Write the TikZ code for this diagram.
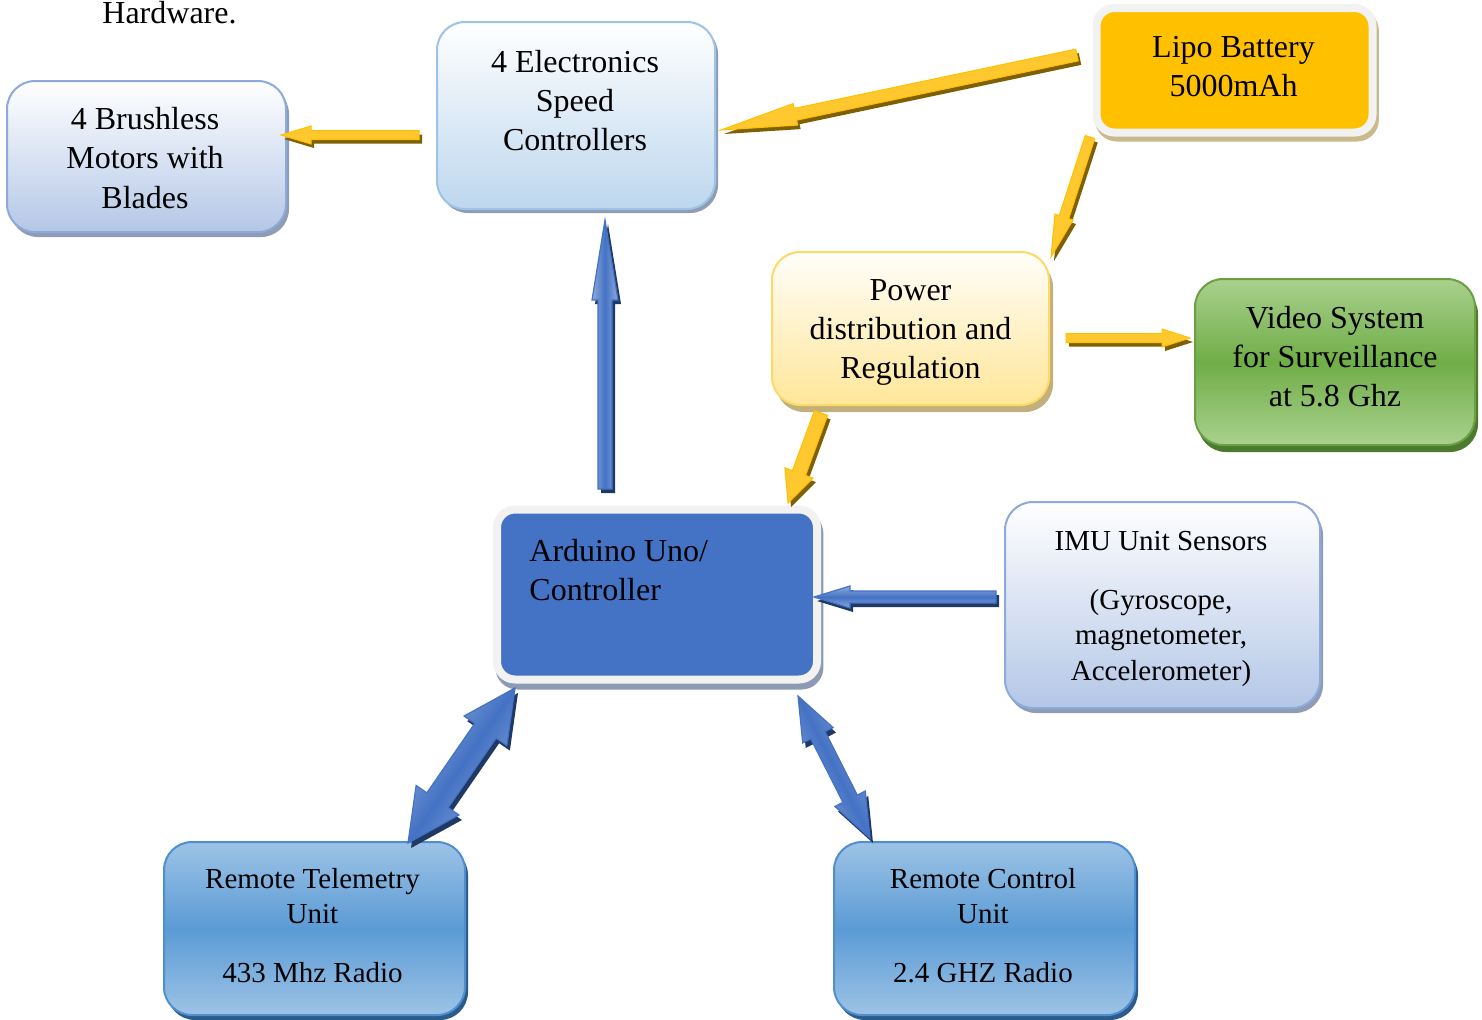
\documentclass[tikz,border=0pt]{standalone}
\usepackage{fontspec}
\setmainfont{Liberation Serif}
\usetikzlibrary{calc,shadows}
\definecolor{shgray}{HTML}{8F9CB3}
\definecolor{brushbd}{HTML}{8EAADB}
\definecolor{brushbot}{HTML}{B4C7E7}
\definecolor{escbd}{HTML}{9DC3E6}
\definecolor{escbot}{HTML}{BDD7EE}
\definecolor{lipofill}{HTML}{FFC000}
\definecolor{whitebd}{HTML}{F2F2F2}
\definecolor{liposh}{HTML}{C9B98B}
\definecolor{powertop}{HTML}{FFFEF9}
\definecolor{powerbot}{HTML}{FFE699}
\definecolor{powerbd}{HTML}{FFD966}
\definecolor{powersh}{HTML}{C1B07C}
\definecolor{videotop}{HTML}{A9D18E}
\definecolor{videomid}{HTML}{70AD47}
\definecolor{videobd}{HTML}{6A9F44}
\definecolor{videosh}{HTML}{4C7A2E}
\definecolor{ardfill}{HTML}{4472C4}
\definecolor{ardsh}{HTML}{8C9BB3}
\definecolor{teletop}{HTML}{9DC3E6}
\definecolor{telemid}{HTML}{5B9BD5}
\definecolor{telebd}{HTML}{4F8FCF}
\definecolor{telesh}{HTML}{2E5C8A}
\definecolor{yel}{HTML}{FFC000}
\definecolor{yelfill}{HTML}{FFC82E}
\definecolor{yelsh}{HTML}{7F6000}
\definecolor{blu}{HTML}{4472C4}
\definecolor{bluhi}{HTML}{8EAADB}
\definecolor{blush}{HTML}{203864}

\newcommand\blkpath[6]{%
  \path[#1] ($(#2)!#5!90:(#3)$) -- ($(#4)!#5!90:(#3)$) -- ($(#4)!#6!90:(#3)$) -- (#3)
    -- ($(#4)!#6!-90:(#3)$) -- ($(#4)!#5!-90:(#3)$) -- ($(#2)!#5!-90:(#3)$) -- cycle;}
\newcommand\blkarrow[8]{%
  \coordinate (#1-n) at ($(#5)!#8!(#4)$);
  \blkpath{#3,transform canvas={shift={(1.5pt,-2pt)}}}{#4}{#5}{#1-n}{#6}{#7}
  \blkpath{#2}{#4}{#5}{#1-n}{#6}{#7}}
\newcommand\blkdpath[7]{%
  \path[#1] (#2) -- ($(#4)!#7!90:(#3)$) -- ($(#4)!#6!90:(#3)$) -- ($(#5)!#6!90:(#3)$)
    -- ($(#5)!#7!90:(#3)$) -- (#3) -- ($(#5)!#7!-90:(#3)$) -- ($(#5)!#6!-90:(#3)$)
    -- ($(#4)!#6!-90:(#3)$) -- ($(#4)!#7!-90:(#3)$) -- cycle;}
\newcommand\blkdarrow[8]{%
  \coordinate (#1-m) at ($(#4)!#8!(#5)$);
  \coordinate (#1-n) at ($(#5)!#8!(#4)$);
  \blkdpath{#3,transform canvas={shift={(1.5pt,-2.5pt)}}}{#4}{#5}{#1-m}{#1-n}{#6}{#7}
  \blkdpath{#2}{#4}{#5}{#1-m}{#1-n}{#6}{#7}}

\tikzset{
  box/.style={rounded corners=14pt, inner sep=0pt, line width=1pt},
  bigtxt/.style={font={\fontsize{16pt}{19.65pt}\selectfont}, align=center, inner sep=0pt},
  smalltxt/.style={font={\fontsize{14.5pt}{17.75pt}\selectfont}, align=center, inner sep=0pt},
  paleblue/.style={box, draw=brushbd, top color=white, bottom color=brushbot,
    general shadow={fill=shgray, shadow xshift=1.5pt, shadow yshift=-2.5pt}},
  escbox/.style={box, draw=escbd, top color=white, bottom color=escbot,
    general shadow={fill=shgray, shadow xshift=1.5pt, shadow yshift=-2pt}},
  lipobox/.style={rounded corners=9pt, inner sep=0pt, line width=4pt, draw=whitebd, fill=lipofill,
    general shadow={fill=liposh, draw=liposh, line width=4pt, shadow xshift=1.2pt, shadow yshift=-2.5pt}},
  powerbox/.style={box, draw=powerbd, top color=powertop, bottom color=powerbot,
    general shadow={fill=powersh, shadow xshift=2pt, shadow yshift=-3.5pt}},
  videobox/.style={box, draw=videobd, top color=videotop, bottom color=videotop, middle color=videomid,
    general shadow={fill=videosh, shadow xshift=1.5pt, shadow yshift=-3.5pt}},
  ardbox/.style={rounded corners=9pt, inner sep=0pt, line width=4pt, draw=whitebd, fill=ardfill,
    general shadow={fill=ardsh, draw=ardsh, line width=4pt, shadow xshift=1.2pt, shadow yshift=-3pt}},
  telebox/.style={box, draw=telebd, top color=teletop, bottom color=teletop, middle color=telemid,
    general shadow={fill=telesh, shadow xshift=1.5pt, shadow yshift=-2.5pt}},
  yarrow/.style={fill=yelfill, draw=yel, line width=0.5pt},
  yshadow/.style={fill=yelsh},
  barrow/.style={draw=blu, line width=0.6pt, top color=bluhi, bottom color=bluhi, middle color=blu, shading angle=#1},
  bshadow/.style={fill=blush}
}

\begin{document}
\begin{tikzpicture}[x=0.5pt,y=-0.5pt]
\useasboundingbox (0,0) rectangle (1482,1019);
\fill[white] (0,0) rectangle (1482,1019);

% boxes
\node[paleblue, minimum width=139.5pt, minimum height=75.5pt] (brush) at (146.5,156.5) {};
\node[escbox, minimum width=139pt, minimum height=93.5pt] (esc) at (576,115.5) {};
\node[lipobox, minimum width=138pt, minimum height=62.25pt] (lipo) at (1234.5,70.25) {};
\node[powerbox, minimum width=138.5pt, minimum height=76.5pt] (power) at (910.5,328.5) {};
\node[videobox, minimum width=140pt, minimum height=83pt] (video) at (1335,362) {};
\node[ardbox, minimum width=160pt, minimum height=85pt] (ard) at (657,594.5) {};
\node[paleblue, minimum width=157.5pt, minimum height=103pt] (imu) at (1162.5,605) {};
\node[telebox, minimum width=150.5pt, minimum height=86.5pt] (tele) at (314.5,928.5) {};
\node[telebox, minimum width=150.5pt, minimum height=86.5pt] (rc) at (984.5,928.5) {};

% texts
\node[bigtxt, anchor=base] (hw) at (169.5,23) {Hardware.};
\node[bigtxt] (brush-t) at (145,158) {4 Brushless\\Motors with\\Blades};
\node[bigtxt] (esc-t) at (575,100.5) {4 Electronics\\Speed\\Controllers};
\node[bigtxt] (lipo-t) at (1233.5,66.6) {Lipo Battery\\5000mAh};
\node[bigtxt] (power-t) at (910.5,332.5) {Power\\distribution and\\Regulation};
\node[bigtxt] (video-t) at (1335,356.5) {Video System\\for Surveillance\\at 5.8 Ghz};
\node[bigtxt, align=left, anchor=west] (ard-t) at (529,570) {Arduino Uno/\\Controller};
\node[smalltxt] (imu-t) at (1161,608.5) {IMU Unit Sensors\\[11.75pt](Gyroscope,\\magnetometer,\\Accelerometer)};
\node[smalltxt] (tele-t) at (312.5,925.8) {Remote Telemetry\\Unit\\[11.75pt]433 Mhz Radio};
\node[smalltxt] (rc-t) at (983,925.8) {Remote Control\\Unit\\[11.75pt]2.4 GHZ Radio};

% connector end points
\coordinate (a1s) at (419,135);  \coordinate (a1e) at (281,135);
\coordinate (a2s) at (1077,55);  \coordinate (a2e) at (721,130);
\coordinate (a3s) at (1090,137); \coordinate (a3e) at (1051,257);
\coordinate (a4s) at (1066,338); \coordinate (a4e) at (1190,338);
\coordinate (a5s) at (821,413);  \coordinate (a5e) at (788,503);
\coordinate (a6s) at (605,489);  \coordinate (a6e) at (605,220);
\coordinate (a7s) at (996,597);  \coordinate (a7e) at (814,597);
\coordinate (d1s) at (408,843);  \coordinate (d1e) at (515,688);
\coordinate (d2s) at (798,696);  \coordinate (d2e) at (870,838);

% arrows
\blkarrow{a1}{yarrow}{yshadow}{a1s}{a1e}{2.25pt}{4.5pt}{15pt}
\blkarrow{a2}{yarrow}{yshadow}{a2s}{a2e}{3pt}{5.5pt}{38pt}
\blkarrow{a3}{yarrow}{yshadow}{a3s}{a3e}{2.5pt}{4.75pt}{21pt}
\blkarrow{a4}{yarrow}{yshadow}{a4s}{a4e}{2.25pt}{4.5pt}{14pt}
\blkarrow{a5}{yarrow}{yshadow}{a5s}{a5e}{3.5pt}{7.5pt}{16pt}
\blkarrow{a6}{barrow=90}{bshadow}{a6s}{a6e}{3.5pt}{6.5pt}{40pt}
\blkarrow{a7}{barrow=180}{bshadow}{a7s}{a7e}{3pt}{5.5pt}{18pt}
\blkdarrow{d1}{barrow=55.4}{bshadow}{d1s}{d1e}{6.5pt}{13pt}{26pt}
\blkdarrow{d2}{barrow=-63.1}{bshadow}{d2s}{d2e}{4pt}{8.5pt}{22pt}
\end{tikzpicture}
\end{document}
